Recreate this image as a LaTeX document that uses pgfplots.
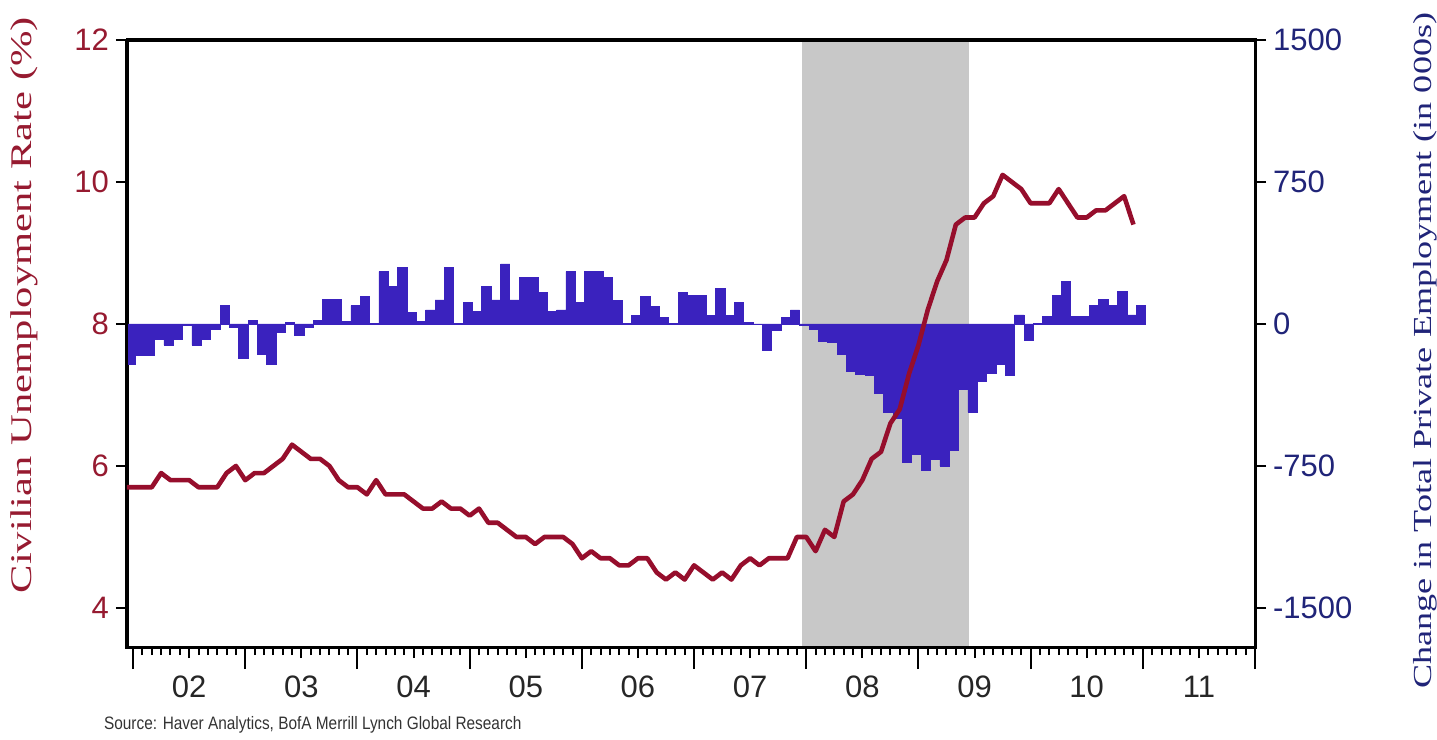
\documentclass[border=0pt]{standalone}
\usepackage{pgfplots}
\pgfplotsset{compat=1.18}
\usepackage{pgfplotstable}
\usepackage{fontspec}
\usepackage{graphicx}
\setmainfont{Liberation Serif}
\setsansfont{Liberation Sans}

\definecolor{unemp}{RGB}{150,14,44}
\definecolor{emp}{RGB}{58,34,190}
\definecolor{recess}{RGB}{200,200,200}
\definecolor{lefttxt}{RGB}{150,26,48}
\definecolor{righttxt}{RGB}{32,36,120}

% i = months since Jan 2002, u = unemployment rate (%), e = change in private employment (000s)
\pgfplotstableread{
i u e
-1 5.7 -211
0 5.7 -164
1 5.7 -164
2 5.7 -83
3 5.9 -111
4 5.8 -83
5 5.8 -5
6 5.8 -111
7 5.7 -83
8 5.7 -30
9 5.7 100
10 5.9 -18
11 6.0 -181
12 5.8 18
13 5.9 -158
14 5.9 -211
15 6.0 -44
16 6.1 9
17 6.3 -58
18 6.2 -18
19 6.1 18
20 6.1 128
21 6.0 128
22 5.8 12
23 5.7 97
24 5.7 144
25 5.6 4
26 5.8 276
27 5.6 197
28 5.6 297
29 5.6 62
30 5.5 12
31 5.4 74
32 5.4 127
33 5.5 297
34 5.4 3
35 5.4 114
36 5.3 65
37 5.4 197
38 5.2 127
39 5.2 317
40 5.1 127
41 5.0 246
42 5.0 246
43 4.9 165
44 5.0 65
45 5.0 74
46 5.0 276
47 4.9 114
48 4.7 276
49 4.8 276
50 4.7 246
51 4.7 123
52 4.6 5
53 4.6 44
54 4.7 144
55 4.7 95
56 4.5 35
57 4.4 5
58 4.5 165
59 4.4 153
60 4.6 153
61 4.5 44
62 4.4 188
63 4.5 44
64 4.4 114
65 4.6 9
66 4.7 -3
67 4.6 -137
68 4.7 -32
69 4.7 33
70 4.7 74
71 5.0 -10
72 5.0 -30
73 4.8 -90
74 5.1 -95
75 5.0 -160
76 5.5 -250
77 5.6 -265
78 5.8 -270
79 6.1 -365
80 6.2 -465
81 6.6 -500
82 6.8 -730
83 7.3 -690
84 7.7 -775
85 8.2 -715
86 8.6 -750
87 8.9 -670
88 9.4 -345
89 9.5 -465
90 9.5 -305
91 9.7 -260
92 9.8 -215
93 10.1 -270
94 10.0 48
95 9.9 -88
96 9.7 3
97 9.7 40
98 9.7 150
99 9.9 224
100 9.7 40
101 9.5 40
102 9.5 100
103 9.6 132
104 9.6 100
105 9.7 171
106 9.8 48
107 9.4 100
108 nan 100
}\jobs

\begin{document}
\begin{tikzpicture}
\pgfplotsset{
  base/.style={
    scale only axis, width=564pt, height=303.5pt,
    xmin=-0.65, xmax=120,
    axis line style={line width=1.5pt},
    tick style={line width=1pt, black},
    tick align=outside,
    major tick length=5.5pt, minor tick length=4pt,
    /pgf/number format/assume math mode=true,
    /pgf/number format/1000 sep={},
    ticklabel style={font=\fontsize{15.5}{18}\selectfont\sffamily},
  },
}
% right axis: bars and recession band
\begin{axis}[base, name=ax,
    ymin=-1706, ymax=1500,
    ytick={-1500,-750,0,750,1500},
    ytick pos=right, yticklabel pos=right,
    xtick=\empty,
    yticklabel style={text=righttxt},
    ylabel={\scalebox{1.39}[1]{Change in Total Private Employment (in 000s)}},
    ylabel style={font=\fontsize{13}{16}\selectfont, text=righttxt,
      at={(axis description cs:1.1507,0.488)}, anchor=center},
  ]
  \addplot[fill=recess, draw=none] coordinates {(71.5,-1800) (71.5,1600) (89.4,1600) (89.4,-1800)} -- cycle;
  \addplot[ybar interval, fill=emp, draw=emp, line width=0.4pt]
    table[x expr=\thisrow{i}+0.3, y=e] {\jobs};
\end{axis}
% left axis: unemployment rate
\begin{axis}[base,
    ymin=3.45, ymax=12,
    ytick={4,6,8,10,12},
    ytick pos=left, yticklabel pos=left,
    yticklabel style={text=lefttxt},
    xtick pos=bottom,
    xtick={6,18,...,114},
    xticklabels={02,03,04,05,06,07,08,09,10,11},
    minor xtick={0,1,...,120},
    extra x ticks={0,12,...,120},
    extra x tick labels={},
    extra x tick style={major tick length=11pt},
    xticklabel style={text=black!85, yshift=-5.5pt},
    ylabel={\scalebox{1.42}[1]{Civilian Unemployment Rate (\%)}},
    ylabel style={font=\fontsize{15}{18}\selectfont, text=lefttxt,
      at={(axis description cs:-0.0913,0.563)}, anchor=center},
  ]
  \addplot[unemp, line width=2.3pt, line join=round] table[x=i, y=u] {\jobs};
\end{axis}
\node[anchor=west, font=\fontsize{9}{11}\selectfont\sffamily, text=black!80]
  at ([xshift=-15pt, yshift=-39pt]ax.south west)
  {\scalebox{0.855}[1]{Source: Haver Analytics, BofA Merrill Lynch Global Research}};
\pgfresetboundingbox
\path ([xshift=-63.5pt,yshift=-46pt]ax.south west) rectangle ([xshift=91pt,yshift=20pt]ax.north east);
\end{tikzpicture}
\end{document}
